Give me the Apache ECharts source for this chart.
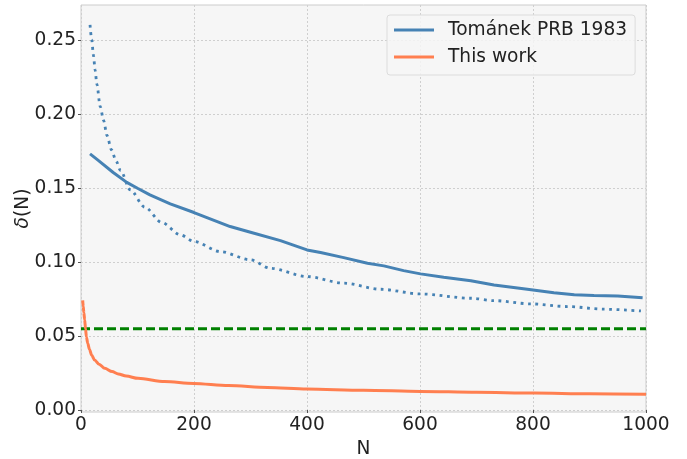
<!DOCTYPE html>
<html>
<head>
<meta charset="utf-8">
<script src="https://cdn.jsdelivr.net/npm/echarts@6/dist/echarts.min.js"></script>
<style>
  html, body { margin: 0; padding: 0; background: #fff; }
  #chart { width: 687px; height: 459px; }
</style>
</head>
<body>
<div id="chart"></div>
<script>
// Tománek PRB 1983 (solid)
const tomanekN = [16, 30, 57, 81, 100, 122, 158, 200, 264, 300, 353, 400, 424, 465, 507, 536, 571, 601, 642, 690, 731, 790, 837, 873, 908, 950, 994];
const tomanekVal = [0.1733, 0.169, 0.1607, 0.154, 0.150, 0.1455, 0.1395, 0.1336, 0.1241, 0.1203, 0.1146, 0.1083, 0.1065, 0.1031, 0.0993, 0.0975, 0.0943, 0.0921, 0.0898, 0.0875, 0.0846, 0.0817, 0.0794, 0.0779, 0.0774, 0.0772, 0.0760];

// Tománek (dotted)
const dottedN = [16, 19, 22, 25, 28, 34, 40, 46, 54, 62, 70, 87, 113, 143, 176, 200, 246, 300, 335, 400, 465, 530, 601, 690, 731, 796, 861, 926, 991];
const dottedVal = [0.2606, 0.2505, 0.240, 0.230, 0.2205, 0.2053, 0.1959, 0.1857, 0.176, 0.1685, 0.162, 0.149, 0.1372, 0.1268, 0.1185, 0.114, 0.1072, 0.1016, 0.0959, 0.0903, 0.0858, 0.0817, 0.0785, 0.0756, 0.074, 0.0718, 0.070, 0.0682, 0.067];

// This work
const workN = [3, 4, 5, 6.5, 8, 9.5, 12, 15, 19, 24, 32, 42, 55, 66, 80, 101, 148, 199, 261, 330, 400, 500, 601, 700, 802, 900, 1000];
const workVal = [0.0742, 0.070, 0.066, 0.061, 0.055, 0.0496, 0.045, 0.041, 0.037, 0.0339, 0.031, 0.0282, 0.026, 0.0244, 0.023, 0.0214, 0.0192, 0.018, 0.0165, 0.0153, 0.0142, 0.0133, 0.0126, 0.012, 0.0115, 0.011, 0.0106];

// horizontal reference
const refN = [0, 1000];
const refVal = [0.055, 0.055];

const yTicks = [0, 0.05, 0.10, 0.15, 0.20, 0.25];

const zip = (xs, ys) => xs.map((x, i) => [x, ys[i]]);
const font = 'DejaVu Sans';
const fs = 18.6;

const chart = echarts.init(document.getElementById('chart'));
chart.setOption({
  animation: false,
  backgroundColor: '#fff',
  textStyle: { fontFamily: font },
  grid: {
    left: 81, right: 41, top: 5, bottom: 47,
    outerBoundsMode: 'none',
    containLabel: false,
    show: true,
    backgroundColor: '#f6f6f6',
    borderColor: '#cccccc',
    borderWidth: 1
  },
  legend: {
    orient: 'vertical',
    left: 387,
    top: 15,
    padding: [4, 8, 7, 7],
    itemGap: 5,
    itemWidth: 40,
    itemHeight: 3,
    icon: 'rect',
    backgroundColor: 'rgba(246,246,246,0.85)',
    borderColor: '#dcdcdc',
    borderWidth: 1,
    borderRadius: 3,
    textStyle: { fontFamily: font, fontSize: fs, color: '#222', lineHeight: 22, padding: [0, 0, 0, 9] },
    data: ['Tománek PRB 1983', 'This work']
  },
  xAxis: {
    type: 'value',
    min: 0,
    max: 1000,
    interval: 200,
    name: 'N',
    nameLocation: 'middle',
    nameGap: 25,
    nameTextStyle: { fontFamily: font, fontSize: fs, color: '#222' },
    axisLine: { show: false },
    axisTick: { show: true, length: 3, lineStyle: { color: '#555' } },
    axisLabel: { fontFamily: font, fontSize: fs, color: '#222', margin: 4, formatter: v => String(v) },
    splitLine: { show: true, lineStyle: { color: '#cfcfcf', width: 1, type: [2, 2] } }
  },
  yAxis: {
    type: 'value',
    min: -0.00135,
    max: 0.274,
    name: '{i|δ}(N)',
    nameLocation: 'middle',
    nameRotate: 90,
    nameGap: 48,
    nameMoveOverlap: false,
    nameTextStyle: {
      fontFamily: font, fontSize: fs, color: '#222',
      rich: { i: { fontFamily: font, fontSize: fs, fontStyle: 'italic', color: '#222' } }
    },
    axisLine: { show: false },
    axisTick: { show: true, length: 3, customValues: yTicks, lineStyle: { color: '#555' } },
    axisLabel: {
      fontFamily: font, fontSize: fs, color: '#222', margin: 5,
      customValues: yTicks,
      formatter: v => v.toFixed(2)
    },
    splitLine: { show: true, lineStyle: { color: '#cfcfcf', width: 1, type: [2, 2] } }
  },
  series: [
    {
      name: 'Tománek PRB 1983',
      type: 'line',
      data: zip(tomanekN, tomanekVal),
      showSymbol: false,
      color: '#4682b4',
      lineStyle: { color: '#4682b4', width: 3 },
      z: 3
    },
    {
      name: 'Tománek dotted',
      type: 'line',
      data: zip(dottedN, dottedVal),
      showSymbol: false,
      smooth: 0.3,
      smoothMonotone: 'x',
      color: '#4682b4',
      lineStyle: { color: '#4682b4', width: 2.8, type: [2.8, 4.6], cap: 'butt' },
      z: 3
    },
    {
      name: 'This work',
      type: 'line',
      data: zip(workN, workVal),
      showSymbol: false,
      smooth: 0.3,
      smoothMonotone: 'x',
      color: '#ff7f50',
      lineStyle: { color: '#ff7f50', width: 3 },
      z: 3
    },
    {
      name: 'ref',
      type: 'line',
      data: zip(refN, refVal),
      showSymbol: false,
      color: '#008000',
      lineStyle: { color: '#008000', width: 3, type: [9, 4], cap: 'butt' },
      z: 2
    }
  ]
});
</script>
</body>
</html>
